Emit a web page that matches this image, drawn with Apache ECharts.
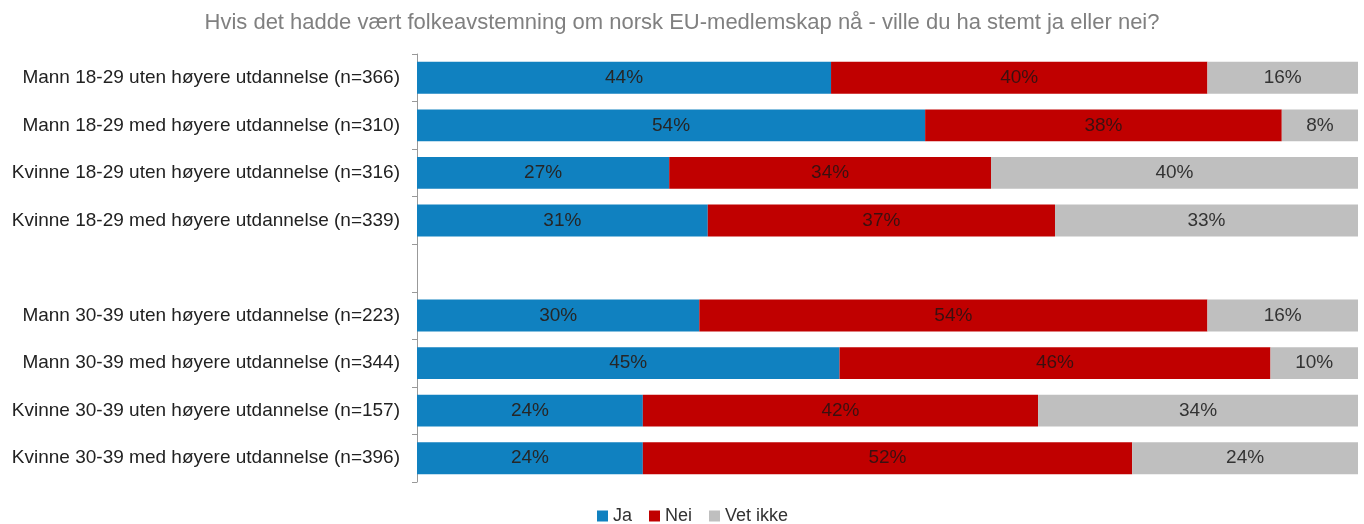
<!DOCTYPE html>
<html>
<head>
<meta charset="utf-8">
<script src="https://cdn.jsdelivr.net/npm/echarts@6/dist/echarts.min.js"></script>
<style>
html,body{margin:0;padding:0;background:#fff;}
#chart{width:1364px;height:524px;}
</style>
</head>
<body>
<div id="chart"></div>
<script>
// kategorier (tom rad = mellomrom mellom aldersgruppene)
var categories = [
	"Mann 18-29 uten høyere utdannelse (n=366)",
	"Mann 18-29 med høyere utdannelse (n=310)",
	"Kvinne 18-29 uten høyere utdannelse (n=316)",
	"Kvinne 18-29 med høyere utdannelse (n=339)",
	"",
	"Mann 30-39 uten høyere utdannelse (n=223)",
	"Mann 30-39 med høyere utdannelse (n=344)",
	"Kvinne 30-39 uten høyere utdannelse (n=157)",
	"Kvinne 30-39 med høyere utdannelse (n=396)"
];
var ja = [44, 54, 26.8, 30.9, null, 30, 44.9, 24, 24];
var nei = [40, 37.9, 34.2, 36.9, null, 54, 45.8, 42, 52];
var vetIkke = [16, 8.1, 39.5, 32.6, null, 16, 9.5, 34, 24];

var myChart = echarts.init(document.getElementById("chart"));
var font = "'Liberation Sans', Arial, sans-serif";

function lbl(color) {
	return {
		show: true,
		position: 'inside',
		color: color,
		fontFamily: font,
		fontSize: 19,
		formatter: function(p) {
			return Math.round(p.value) + '%';
		}
	};
}

var option = {
	animation: false,
	title: {
		text: "Hvis det hadde vært folkeavstemning om norsk EU-medlemskap nå - ville du ha stemt ja eller nei?",
		left: 'center',
		top: 7,
		textStyle: {color: '#808080', fontSize: 22, fontWeight: 'normal', fontFamily: font}
	},
	legend: {
		top: 502,
		left: 592,
		itemWidth: 11,
		itemHeight: 11,
		itemGap: 17,
		icon: 'rect',
		textStyle: {color: '#333', fontSize: 18, fontFamily: font},
		data: ['Ja', 'Nei', 'Vet ikke']
	},
	grid: {left: 417, right: 6, top: 54, bottom: 42},
	xAxis: {
		type: 'value',
		min: 0,
		max: 100,
		show: false
	},
	yAxis: {
		type: 'category',
		inverse: true,
		data: categories,
		axisLine: {lineStyle: {color: '#999'}},
		axisTick: {show: true, length: 5, lineStyle: {color: '#999'}},
		axisLabel: {color: '#222', fontSize: 19, fontFamily: font, margin: 17}
	},
	series: [{
		name: 'Ja',
		type: 'bar',
		stack: 'a',
		data: ja,
		barCategoryGap: '33%',
		itemStyle: {color: '#1081C0'},
		label: lbl('#262626')
	}, {
		name: 'Nei',
		type: 'bar',
		stack: 'a',
		data: nei,
		itemStyle: {color: '#C00000'},
		label: lbl('#3a1010')
	}, {
		name: 'Vet ikke',
		type: 'bar',
		stack: 'a',
		data: vetIkke,
		itemStyle: {color: '#BFBFBF'},
		label: lbl('#333')
	}]
};
myChart.setOption(option);
</script>
</body>
</html>
